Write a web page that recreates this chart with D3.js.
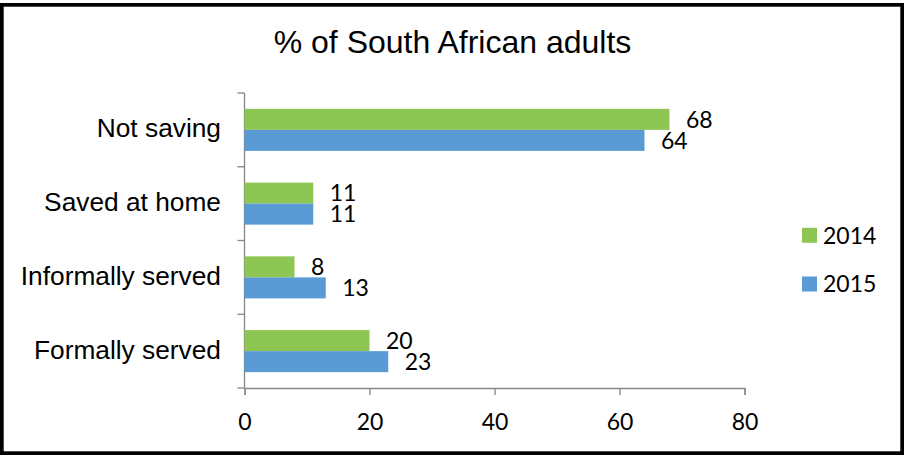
<!DOCTYPE html>
<html>
<head>
<meta charset="utf-8">
<script src="https://cdn.jsdelivr.net/npm/d3@7"></script>
<style>
  html, body { margin: 0; padding: 0; background: #fff; }
  svg { display: block; }
</style>
</head>
<body>
<svg id="chart" width="904" height="455"></svg>
<script>
const title = "% of South African adults";
const categories = ["Not saving", "Saved at home", "Informally served", "Formally served"];
const seriesNames = ["2014", "2015"];
const values2014 = [68, 11, 8, 20];
const values2015 = [64, 11, 13, 23];
const xTicks = [0, 20, 40, 60, 80];

const colors = { "2014": "#8DC652", "2015": "#5B9BD5" };
const seriesValues = { "2014": values2014, "2015": values2015 };

const svg = d3.select("#chart");
const axisColor = "#868686";
const numFont = "Lato, 'Open Sans', sans-serif";
const catFont = "'Liberation Sans', Arial, sans-serif";

// frame
svg.append("rect")
  .attr("x", 1.85).attr("y", 4.85)
  .attr("width", 900.3).attr("height", 448.3)
  .attr("fill", "#fff").attr("stroke", "#000").attr("stroke-width", 3.7);

// title
svg.append("text")
  .attr("x", 452.5).attr("y", 53)
  .attr("text-anchor", "middle")
  .attr("font-family", catFont)
  .attr("font-size", 32)
  .attr("fill", "#000")
  .text(title);

const x = d3.scaleLinear().domain([0, 80]).range([244.5, 744.5]);
const y = d3.scaleBand().domain(categories).range([93, 388])
  .paddingInner(0.43).paddingOuter(0.215);
const ys = d3.scaleBand().domain(seriesNames).range([0, y.bandwidth()]);

// x axis
const xAxis = svg.append("g")
  .attr("transform", `translate(0,${388})`)
  .call(d3.axisBottom(x).tickValues(xTicks).tickSize(7).tickSizeOuter(7).tickPadding(19));
xAxis.select(".domain").attr("stroke", axisColor).attr("stroke-width", 1.3);
xAxis.selectAll(".tick line").attr("stroke", axisColor).attr("stroke-width", 1.3);
xAxis.selectAll(".tick text")
  .attr("font-family", numFont).attr("font-size", 23).attr("fill", "#000");

// y axis line and ticks between categories
const step = y.step();
const bounds = d3.range(categories.length + 1).map(i => 93 + i * step);
svg.append("line")
  .attr("x1", x(0)).attr("x2", x(0))
  .attr("y1", 93).attr("y2", 388)
  .attr("stroke", axisColor).attr("stroke-width", 1.3);
svg.selectAll(".ytick").data(bounds).enter().append("line")
  .attr("x1", x(0) - 7).attr("x2", x(0))
  .attr("y1", d => d).attr("y2", d => d)
  .attr("stroke", axisColor).attr("stroke-width", 1.3);

// category labels
svg.selectAll(".cat").data(categories).enter().append("text")
  .attr("x", 221)
  .attr("y", d => y(d) + y.bandwidth() / 2 + 7.5)
  .attr("text-anchor", "end")
  .attr("font-family", catFont)
  .attr("font-size", 26.3)
  .attr("fill", "#000")
  .text(d => d);

// bars
const barData = [];
categories.forEach((c, i) => {
  seriesNames.forEach(s => barData.push({ cat: c, series: s, value: seriesValues[s][i] }));
});

svg.selectAll(".bar").data(barData).enter().append("rect")
  .attr("x", x(0))
  .attr("y", d => y(d.cat) + ys(d.series))
  .attr("width", d => x(d.value) - x(0))
  .attr("height", ys.bandwidth())
  .attr("fill", d => colors[d.series]);

// value labels
svg.selectAll(".val").data(barData).enter().append("text")
  .attr("x", d => x(d.value) + 16.5)
  .attr("y", d => y(d.cat) + ys(d.series) + ys.bandwidth() / 2)
  .attr("dy", "0.36em")
  .attr("font-family", numFont)
  .attr("font-size", 23)
  .attr("fill", "#000")
  .text(d => d.value);

// legend
const legendY = { "2014": 235.3, "2015": 284 };
const lg = svg.selectAll(".lg").data(seriesNames).enter().append("g")
  .attr("transform", d => `translate(802,${legendY[d]})`);
lg.append("rect").attr("x", 0).attr("y", -7.5).attr("width", 15).attr("height", 15)
  .attr("fill", d => colors[d]);
lg.append("text").attr("x", 21).attr("y", 0).attr("dy", "0.36em")
  .attr("font-family", numFont).attr("font-size", 23).attr("fill", "#000")
  .text(d => d);
</script>
</body>
</html>
